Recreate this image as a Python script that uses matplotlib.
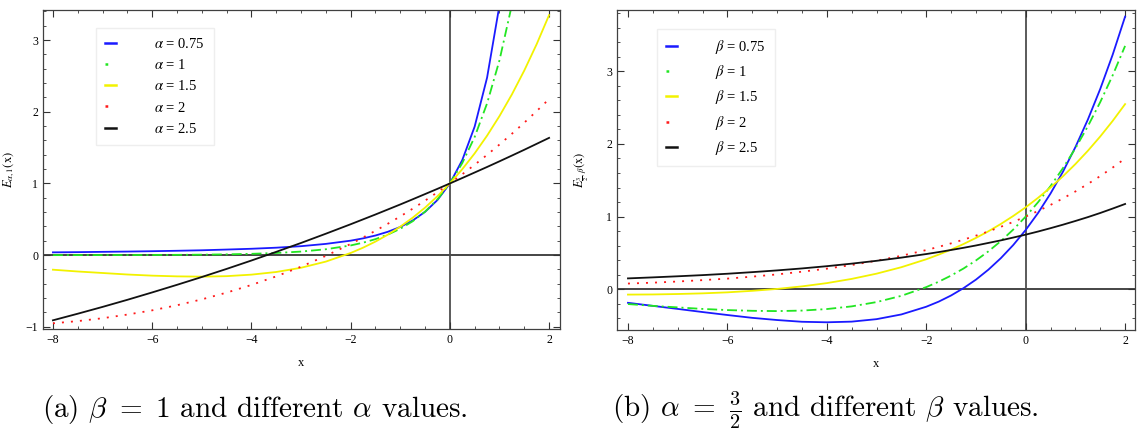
import matplotlib
matplotlib.use('Agg')
import matplotlib.pyplot as plt
from matplotlib.lines import Line2D
from matplotlib.ticker import MultipleLocator

plt.rcParams['font.family'] = 'Liberation Serif'
plt.rcParams['mathtext.fontset'] = 'stix'

# sample points along x (same for all curves)
x_vals = [-8, -7.5, -7, -6.5, -6, -5.5, -5, -4.5, -4, -3.5, -3, -2.5, -2, -1.75,
          -1.5, -1.25, -1, -0.75, -0.5, -0.25, 0, 0.25, 0.5, 0.75, 1, 1.25,
          1.5, 1.75, 2]

# panel (a): E_{alpha,1}(x)
alpha_labels = ['0.75', '1', '1.5', '2', '2.5']
a075 = [0.039, 0.042, 0.046, 0.050, 0.055, 0.061, 0.068, 0.078, 0.089, 0.104,
        0.125, 0.157, 0.202, 0.234, 0.274, 0.326, 0.393, 0.483, 0.604, 0.769,
        1.0, 1.326, 1.794, 2.476, 3.486]
a1 = [0.0003, 0.0006, 0.0009, 0.0015, 0.0025, 0.0041, 0.0067, 0.0111, 0.0183,
      0.0302, 0.0498, 0.0821, 0.1353, 0.1738, 0.2231, 0.2865, 0.3679, 0.4724,
      0.6065, 0.7788, 1.0, 1.2840, 1.6487, 2.1170, 2.7183, 3.4903]
a15 = [-0.203, -0.228, -0.249, -0.270, -0.286, -0.296, -0.300, -0.293, -0.272,
       -0.235, -0.176, -0.090, 0.030, 0.104, 0.189, 0.286, 0.397, 0.522, 0.663,
       0.822, 1.0, 1.199, 1.420, 1.667, 1.940, 2.242, 2.576, 2.944, 3.349]
a2 = [-0.951, -0.920, -0.880, -0.829, -0.770, -0.699, -0.617, -0.523, -0.416,
      -0.296, -0.161, -0.010, 0.156, 0.246, 0.340, 0.438, 0.540, 0.648, 0.760,
      0.878, 1.0, 1.128, 1.261, 1.399, 1.543, 1.693, 1.848, 2.010, 2.178]
a25 = [-0.909, -0.817, -0.722, -0.623, -0.520, -0.414, -0.305, -0.192, -0.075,
       0.046, 0.170, 0.299, 0.431, 0.499, 0.567, 0.637, 0.707, 0.779, 0.852,
       0.925, 1.0, 1.076, 1.153, 1.230, 1.309, 1.389, 1.470, 1.553, 1.636]

# panel (b): E_{3/2,beta}(x)
beta_labels = ['0.75', '1', '1.5', '2', '2.5']
b075 = [-0.186, -0.228, -0.270, -0.313, -0.354, -0.393, -0.423, -0.447, -0.454,
        -0.445, -0.411, -0.346, -0.240, -0.170, -0.085, 0.016, 0.133, 0.270,
        0.428, 0.609, 0.816, 1.051, 1.318, 1.618, 1.956, 2.334, 2.757, 3.228,
        3.752]
b1 = [-0.203, -0.228, -0.249, -0.270, -0.286, -0.296, -0.300, -0.293, -0.272,
      -0.235, -0.176, -0.090, 0.030, 0.104, 0.189, 0.286, 0.397, 0.522, 0.663,
      0.822, 1.0, 1.199, 1.420, 1.667, 1.940, 2.242, 2.576, 2.944, 3.349]
b15 = [-0.073, -0.071, -0.065, -0.056, -0.042, -0.021, 0.005, 0.040, 0.085,
       0.143, 0.215, 0.304, 0.413, 0.477, 0.546, 0.623, 0.707, 0.798, 0.899,
       1.009, 1.128, 1.259, 1.401, 1.555, 1.723, 1.905, 2.103, 2.317, 2.548]
b2 = [0.079, 0.091, 0.107, 0.126, 0.147, 0.174, 0.205, 0.242, 0.284, 0.334,
      0.393, 0.461, 0.540, 0.584, 0.632, 0.683, 0.738, 0.796, 0.860, 0.927,
      1.0, 1.078, 1.161, 1.251, 1.346, 1.449, 1.558, 1.675, 1.800]
b25 = [0.150, 0.164, 0.179, 0.195, 0.214, 0.236, 0.260, 0.287, 0.318, 0.353,
       0.392, 0.436, 0.485, 0.512, 0.541, 0.571, 0.603, 0.638, 0.673, 0.712,
       0.752, 0.795, 0.841, 0.889, 0.940, 0.993, 1.050, 1.111, 1.174]

colors = ['#1a1aff', '#22e622', '#f2f200', '#ff1a1a', '#111111']
styles = ['-', (0, (5.5, 2.2, 1.1, 2.2)), '-', (0, (1.1, 3.9)), '-']
leg_styles = ['-', (0, (1.1, 3.9)), '-', (0, (1.1, 3.9)), '-']

fig = plt.figure(figsize=(11.38, 4.38), dpi=100)
ax1 = fig.add_axes([0.0378, 0.2489, 0.4543, 0.7283])
ax2 = fig.add_axes([0.5422, 0.2466, 0.4552, 0.7317])


def draw_panel(ax, series, labels, sym, xlim, ylim, yticks, ylabel, leg_pos):
    ax.axhline(0, color='0.15', lw=1.2, zorder=1)
    ax.axvline(0, color='0.3', lw=1.3, zorder=1)
    for y, c, ls in zip(series, colors, styles):
        ax.plot(x_vals[:len(y)], y, color=c, ls=ls, lw=1.3, zorder=2)
    ax.set_xlim(xlim)
    ax.set_ylim(ylim)
    ax.set_xticks([-8, -6, -4, -2, 0, 2])
    ax.set_yticks(yticks)
    ax.xaxis.set_minor_locator(MultipleLocator(0.5))
    ax.yaxis.set_minor_locator(MultipleLocator(0.2))
    ax.tick_params(which='both', direction='in', top=True, right=True,
                   color='0.2', labelsize=8.5, pad=3.5)
    ax.tick_params(which='major', length=5, width=0.8)
    ax.tick_params(which='minor', length=2.5, width=0.6)
    for s in ax.spines.values():
        s.set_linewidth(0.9)
        s.set_color('0.25')
    ax.set_xlabel('x', fontsize=9)
    ax.xaxis.set_label_coords(0.5, -0.088)
    ax.set_ylabel(ylabel, fontsize=9)
    ax.yaxis.set_label_coords(-0.05, 0.5)
    handles = [Line2D([], [], color=c, ls=ls, lw=1.8)
               for c, ls in zip(colors, leg_styles)]
    ax.legend(handles, [sym + ' = ' + l for l in labels], loc='upper left',
              bbox_to_anchor=leg_pos, borderaxespad=0, fontsize=10.5,
              handlelength=0.8, handletextpad=2.6, labelspacing=0.5,
              borderpad=0.6, fancybox=False, edgecolor='#eeeeee',
              framealpha=1)


draw_panel(ax1, [a075, a1, a15, a2, a25], alpha_labels, r'$\alpha$',
           (-8.2, 2.22), (-1.03, 3.42), [-1, 0, 1, 2, 3],
           r'$E_{\alpha,1}(\mathrm{x})$', (0.1025, 0.9436))
draw_panel(ax2, [b075, b1, b15, b2, b25], beta_labels, r'$\beta$',
           (-8.22, 2.2), (-0.56, 3.85), [0, 1, 2, 3],
           r'$E_{\frac{3}{2},\beta}(\mathrm{x})$', (0.0772, 0.939))

fig.text(42 / 1138, 1 - 410 / 438, r'(a) $\beta\ =\ 1$ and different $\alpha$ values.',
         family='cmr10', math_fontfamily='cm', fontsize=21, va='center')
fig.text(612 / 1138, 1 - 410 / 438, r'(b) $\alpha\ =\ \frac{3}{2}$ and different $\beta$ values.',
         family='cmr10', math_fontfamily='cm', fontsize=21, va='center')

fig.savefig('out.png', dpi=100)
